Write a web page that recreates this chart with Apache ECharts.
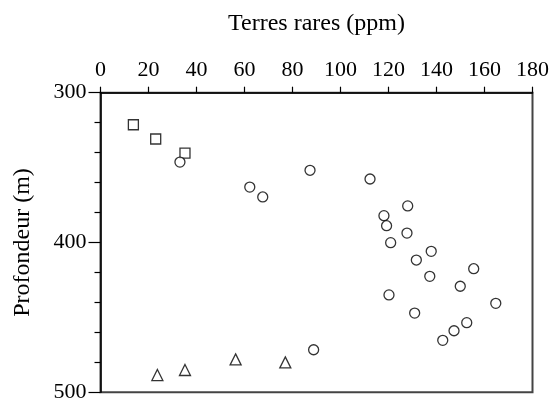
<!DOCTYPE html>
<html><head><meta charset="utf-8">
<script src="https://cdn.jsdelivr.net/npm/echarts@6/dist/echarts.min.js"></script>
<style>html,body{margin:0;padding:0;background:#fff}#c{width:550px;height:401px}</style>
</head><body><div id="c"></div>
<script>
const xTitle = 'Terres rares (ppm)';
const yTitle = 'Profondeur (m)';
const squares = [[13.7,321.4],[23.0,330.9],[35.2,340.3]];
const circles = [[33.1,346.3],[62.2,363.0],[67.6,369.6],[87.3,351.8],[112.3,357.6],
 [128.0,375.6],[118.1,382.1],[119.2,388.8],[127.7,393.7],[120.9,400.1],[137.8,405.9],
 [131.6,411.7],[155.5,417.5],[137.2,422.6],[149.9,429.2],[120.2,435.0],[164.7,440.6],
 [130.9,447.1],[152.6,453.5],[147.3,458.9],[142.6,465.3],[88.8,471.6]];
const triangles = [[23.7,488.5],[35.2,485.1],[56.3,478.0],[77.0,480.0]];

const font = 'Liberation Serif, Times New Roman, serif';
const chart = echarts.init(document.getElementById('c'), null, {renderer:'canvas'});
const mk = (data, symbol, size) => ({
  type:'scatter', data, symbol, symbolSize:size,
  itemStyle:{color:'#fff', borderColor:'#000', borderWidth:1.3}
});
chart.setOption({
  animation:false,
  backgroundColor:'#fff',
  grid:{left:100.5, right:17.5, top:92.7, bottom:8.7, outerBoundsMode:'none', containLabel:false,
    show:true, borderColor:'#444', borderWidth:2, backgroundColor:'transparent'},
  xAxis:{type:'value', position:'top', min:0, max:180, interval:20,
    name:xTitle, nameLocation:'middle', nameGap:57,
    nameTextStyle:{fontFamily:font, fontSize:24, color:'#000'},
    axisLine:{show:true, lineStyle:{color:'#000', width:1.5}},
    axisTick:{show:true, inside:false, length:6, lineStyle:{color:'#000', width:1.2}},
    axisLabel:{fontFamily:font, fontSize:22, color:'#000', margin:11},
    splitLine:{show:false}},
  yAxis:{type:'value', inverse:true, min:300, max:500, interval:100,
    name:yTitle, nameLocation:'middle', nameGap:66, nameRotate:90,
    nameTextStyle:{fontFamily:font, fontSize:24, color:'#000'},
    axisLine:{show:true, lineStyle:{color:'#000', width:1.5}},
    axisTick:{show:true, inside:false, length:12, lineStyle:{color:'#000', width:1.2}},
    minorTick:{show:true, splitNumber:5, length:6, lineStyle:{color:'#000', width:1.2}},
    axisLabel:{fontFamily:font, fontSize:22, color:'#000', margin:14},
    splitLine:{show:false}, minorSplitLine:{show:false}},
  series:[mk(squares,'rect',10), mk(circles,'circle',10), mk(triangles,'triangle',11)]
});
</script></body></html>
